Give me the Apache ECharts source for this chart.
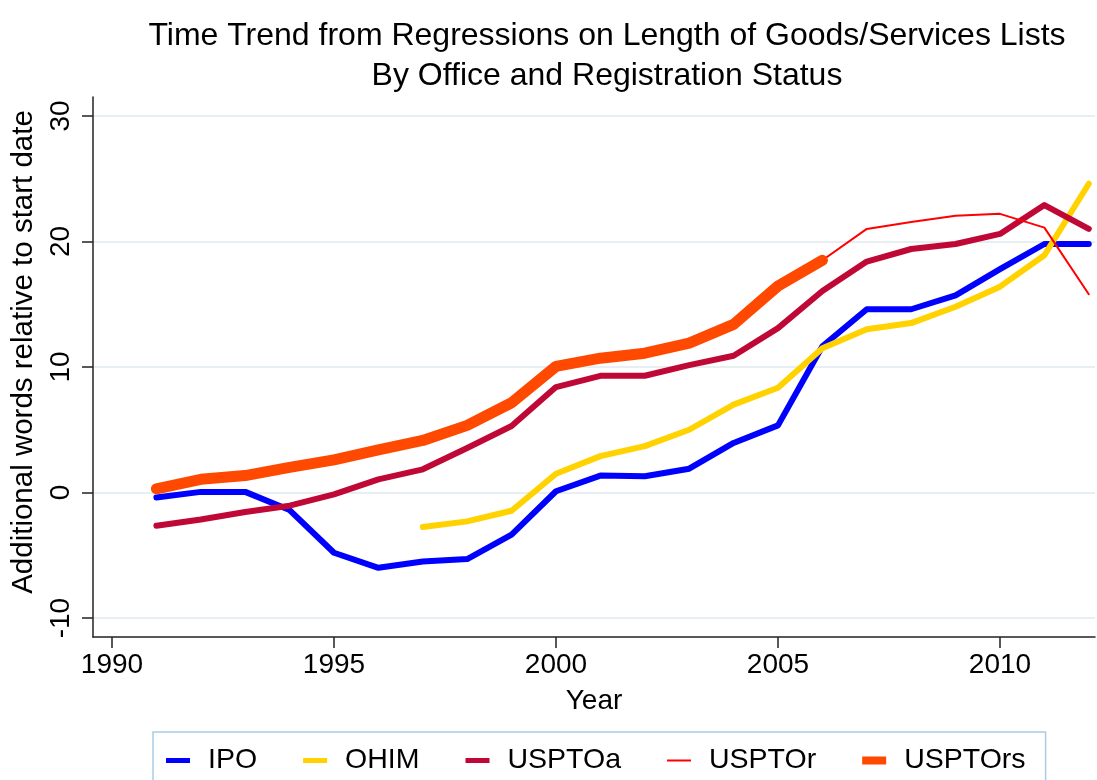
<!DOCTYPE html>
<html lang="en">
<head>
    <meta charset="UTF-8">
    <title>Time Trend</title>
    <script src="https://cdn.jsdelivr.net/npm/echarts@6/dist/echarts.min.js"></script>
    <style>
        html, body { margin: 0; padding: 0; background: #fff; }
        #chart { width: 1097px; height: 780px; }
    </style>
</head>
<body>
<div id="chart"></div>
<script>
    // data
    const years = [1991, 1992, 1993, 1994, 1995, 1996, 1997, 1998, 1999, 2000, 2001,
        2002, 2003, 2004, 2005, 2006, 2007, 2008, 2009, 2010, 2011, 2012];
    const ipo = [-0.4, 0.05, 0.05, -1.4, -4.8, -6.0, -5.5, -5.3, -3.35, 0.1, 1.35,
        1.3, 1.9, 3.95, 5.35, 11.65, 14.6, 14.6, 15.7, 17.8, 19.8, 19.8];
    const ohim = [null, null, null, null, null, null, -2.75, -2.3, -1.45, 1.5, 2.9,
        3.7, 5.0, 7.0, 8.35, 11.5, 13.0, 13.5, 14.8, 16.4, 18.9, 24.6];
    const usptoA = [-2.65, -2.15, -1.55, -1.05, -0.15, 1.05, 1.85, 3.55, 5.3, 8.4, 9.3,
        9.3, 10.15, 10.9, 13.1, 16.05, 18.4, 19.4, 19.8, 20.6, 22.9, 21.0];
    const usptoR = [null, null, null, null, null, null, null, null, null, null, null,
        null, null, null, null, 18.5, 21.0, 21.55, 22.05, 22.2, 21.1, 15.8];
    const usptoRs = [0.3, 1.05, 1.35, 2.0, 2.6, 3.4, 4.15, 5.35, 7.15, 10.05, 10.7,
        11.1, 11.9, 13.4, 16.45, 18.5, null, null, null, null, null, null];
    const xTicks = [1990, 1995, 2000, 2005, 2010];
    const yTicks = [-10, 0, 10, 20, 30];

    (function () {
        const font = 'Liberation Sans, Arial, sans-serif';

        function pairs(vals) {
            return years.map(function (y, i) { return [y, vals[i]]; });
        }

        function line(name, vals, color, width) {
            return {
                name: name,
                type: 'line',
                data: pairs(vals),
                symbol: 'none',
                showSymbol: false,
                lineStyle: { color: color, width: width, cap: 'round', join: 'round' },
                itemStyle: { color: color },
                emphasis: { disabled: true },
                animation: false
            };
        }

        // legend swatches: flat bars, thickness like the lines
        function swatch(name, h) {
            return { name: name, icon: 'path://M0,0H24V' + h + 'H0Z' };
        }

        let myChart = echarts.init(document.getElementById('chart'));
        let option = {
            backgroundColor: '#fff',
            title: {
                text: 'Time Trend from Regressions on Length of Goods/Services Lists\nBy Office and Registration Status',
                left: 602,
                top: 11,
                textAlign: 'center',
                textStyle: {
                    fontFamily: font,
                    fontWeight: 'normal',
                    fontSize: 32,
                    lineHeight: 40,
                    color: '#000'
                }
            },
            legend: {
                left: 153,
                top: 732,
                padding: [14, 20, 24, 13],
                borderColor: '#a9cbe6',
                borderWidth: 1.5,
                itemWidth: 24,
                itemHeight: 12,
                itemGap: 46,
                symbolKeepAspect: true,
                textStyle: {
                    fontFamily: font,
                    fontSize: 28.5,
                    color: '#000',
                    padding: [0, 0, 0, 13]
                },
                data: [
                    swatch('IPO', 5),
                    swatch('OHIM', 5),
                    swatch('USPTOa', 5),
                    swatch('USPTOr', 2),
                    swatch('USPTOrs', 8)
                ]
            },
            grid: {
                left: 93,
                right: 2,
                top: 97,
                bottom: 143
            },
            xAxis: {
                type: 'value',
                min: 1989.572,
                max: 2012.14,
                name: 'Year',
                nameLocation: 'middle',
                nameGap: 50,
                nameTextStyle: { fontFamily: font, fontSize: 28, color: '#000' },
                axisLine: { onZero: false, lineStyle: { color: '#222', width: 1.5 } },
                axisTick: { length: 11, lineStyle: { color: '#222', width: 1.5 }, customValues: xTicks },
                axisLabel: {
                    customValues: xTicks,
                    formatter: function (v) { return String(v); },
                    margin: 14,
                    fontFamily: font,
                    fontSize: 28,
                    color: '#000'
                },
                splitLine: { show: false }
            },
            yAxis: {
                type: 'value',
                min: -11.51,
                max: 31.51,
                name: 'Additional words relative to start date',
                nameLocation: 'middle',
                nameGap: 48,
                nameTextStyle: { fontFamily: font, fontSize: 29.5, color: '#000', padding: [0, 0, 0, 30] },
                axisLine: { show: true, onZero: false, lineStyle: { color: '#222', width: 1.5 } },
                axisTick: { show: true, length: 11, lineStyle: { color: '#222', width: 1.5 }, customValues: yTicks },
                axisLabel: {
                    customValues: yTicks,
                    formatter: function (v) { return String(v); },
                    rotate: 90,
                    margin: 18,
                    fontFamily: font,
                    fontSize: 28,
                    color: '#000'
                },
                splitLine: { show: true, lineStyle: { color: '#e7eff2', width: 2 } }
            },
            series: [
                line('IPO', ipo, '#0000ff', 6),
                line('OHIM', ohim, '#ffd200', 6),
                line('USPTOa', usptoA, '#c00837', 6),
                line('USPTOr', usptoR, '#ff0000', 2),
                line('USPTOrs', usptoRs, '#ff4800', 11)
            ]
        };
        myChart.setOption(option);
    })()
</script>
</body>
</html>
